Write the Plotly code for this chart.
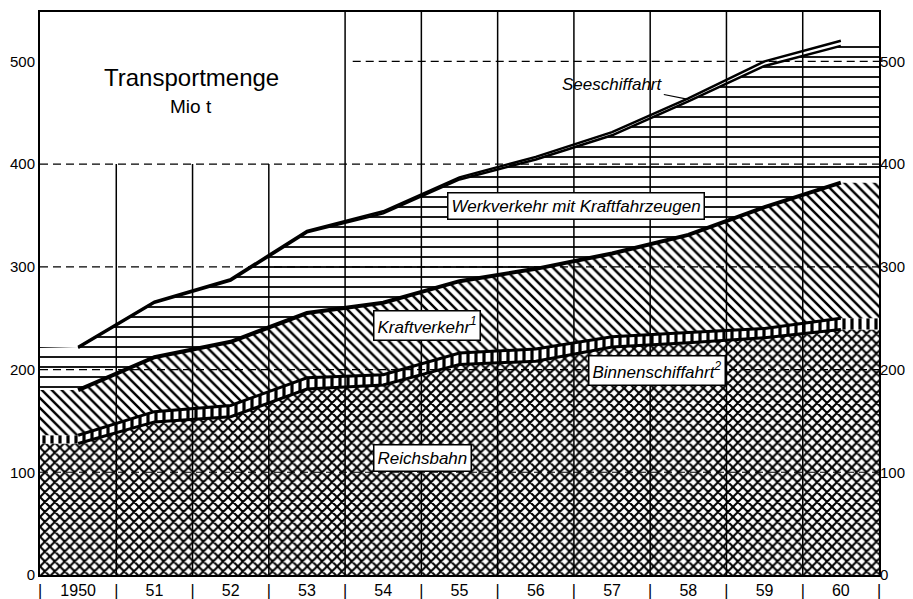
import plotly.graph_objects as go

# ---------------- data (Mio t) ----------------
years = [1950, 1951, 1952, 1953, 1954, 1955, 1956, 1957, 1958, 1959, 1960]
year_labels = ["1950", "51", "52", "53", "54", "55", "56", "57", "58", "59", "60"]
reichsbahn = [128, 149, 154, 181, 185, 205, 208, 222, 226, 231, 239]
binnenschiffahrt = [8, 10, 11, 11, 10, 11, 12, 10, 10, 9, 11]
kraftverkehr = [44, 53, 62, 63, 70, 70, 78, 81, 95, 118, 132]
werkverkehr = [41, 53, 59.5, 78.5, 87, 99, 106.5, 115, 130, 137.5, 133]
seeschiffahrt = [1, 1, 1.5, 1.5, 2, 2, 2.5, 3, 3, 4.5, 5]
y_ticks = [0, 100, 200, 300, 400, 500]

# ---------------- cumulative levels ----------------
def cum(*series):
    return [sum(v) for v in zip(*series)]

c1 = reichsbahn
c2 = cum(reichsbahn, binnenschiffahrt)
c3 = cum(reichsbahn, binnenschiffahrt, kraftverkehr)
c4 = cum(reichsbahn, binnenschiffahrt, kraftverkehr, werkverkehr)
c5 = cum(reichsbahn, binnenschiffahrt, kraftverkehr, werkverkehr, seeschiffahrt)

x_ext = [years[0] - 0.5] + years + [years[-1] + 0.5]
def ext(a, first=None, last=None):
    return [a[0] if first is None else first] + list(a) + [a[-1] if last is None else last]

Y_MAX = 548
FONT = "Liberation Sans, Arial, sans-serif"

fig = go.Figure()

def fill_trace(y, fill, shape, size, solidity):
    return go.Scatter(
        x=x_ext, y=y, mode="lines", line=dict(width=0, color="black"),
        fill=fill, fillcolor="white",
        fillpattern=dict(shape=shape, fgcolor="black", bgcolor="white",
                         fgopacity=1, size=size, solidity=solidity),
        hoverinfo="skip", showlegend=False)

fig.add_trace(fill_trace(ext(c1), "tozeroy", "x", 7, 0.5))
fig.add_trace(fill_trace(ext(c2), "tonexty", "|", 8, 0.4))
fig.add_trace(fill_trace(ext(c3), "tonexty", "\\", 7, 0.35))
fig.add_trace(fill_trace(ext(c4, first=c5[0], last=c5[-1]), "tonexty", "-", 10, 0.18))

# Seeschiffahrt band (white)
fig.add_trace(go.Scatter(x=years, y=c4, mode="lines", line=dict(width=0),
                         hoverinfo="skip", showlegend=False))
fig.add_trace(go.Scatter(x=years, y=c5, mode="lines", line=dict(width=0),
                         fill="tonexty", fillcolor="white",
                         hoverinfo="skip", showlegend=False))

# heavy boundary lines
for lv, w in [(c1, 3), (c2, 3), (c3, 4), (c4, 2.5), (c5, 2.5)]:
    fig.add_trace(go.Scatter(x=years, y=lv, mode="lines",
                             line=dict(color="black", width=w),
                             hoverinfo="skip", showlegend=False))

# dummy trace for right axis
fig.add_trace(go.Scatter(x=[years[0]], y=[0], yaxis="y2", mode="markers",
                         marker=dict(opacity=0), hoverinfo="skip", showlegend=False))

# ---------------- grid (above fills) ----------------
shapes = []
seps = [y + 0.5 for y in years[:-1]]
for s in seps:
    top = 400 if s < 1953 else Y_MAX
    shapes.append(dict(type="line", xref="x", yref="y", x0=s, x1=s, y0=0, y1=top,
                       line=dict(color="black", width=1.5), layer="above"))
for t in y_ticks[1:]:
    x0 = 1953.6 if t == 500 else years[0] - 0.5
    shapes.append(dict(type="line", xref="x", yref="y", x0=x0, x1=years[-1] + 0.5,
                       y0=t, y1=t, line=dict(color="black", width=1.2, dash="8px,5px"),
                       layer="above"))

# ---------------- x tick labels with separators ----------------
tickvals, ticktext = [], []
for i, y in enumerate(years):
    tickvals += [y - 0.5, y]
    ticktext += ["|", year_labels[i]]
tickvals.append(years[-1] + 0.5)
ticktext.append("|")

# ---------------- annotations ----------------
box = dict(bgcolor="white", bordercolor="black", borderwidth=1.5, borderpad=3,
           showarrow=False, font=dict(family=FONT, size=17, color="black"))
annotations = [
    dict(x=1951.49, y=484, text="Transportmenge", showarrow=False,
         font=dict(family=FONT, size=24, color="black")),
    dict(x=1951.48, y=456, text="Mio t", showarrow=False,
         font=dict(family=FONT, size=19, color="black")),
    dict(x=1956.53, y=359, text="<i>Werkverkehr mit Kraftfahrzeugen</i>", **box),
    dict(x=1954.57, y=243, text="<i>Kraftverkehr<sup>1</sup></i>", **box),
    dict(x=1957.59, y=199, text="<i>Binnenschiffahrt<sup>2</sup></i>", **box),
    dict(x=1954.52, y=114, text="<i>Reichsbahn</i>", **box),
    dict(x=1958.0, y=463, text="<i>Seeschiffahrt</i>", showarrow=True,
         arrowhead=0, arrowwidth=1.2, arrowcolor="black", ax=-76, ay=-15,
         font=dict(family=FONT, size=17, color="black")),
]

# page body has an 8px margin: figure is 905x591 placed at (8, 8)
fig.update_layout(
    width=905, height=591,
    margin=dict(l=32, r=34, t=4, b=24, autoexpand=False),
    paper_bgcolor="white", plot_bgcolor="white",
    showlegend=False,
    shapes=shapes, annotations=annotations,
    xaxis=dict(range=[years[0] - 0.5, years[-1] + 0.5], tickvals=tickvals,
               ticktext=ticktext, ticks="", showgrid=False, zeroline=False,
               showline=True, linecolor="black", linewidth=2, mirror=True,
               automargin=False,
               tickfont=dict(family=FONT, size=16, color="black")),
    yaxis=dict(range=[0, Y_MAX], tickvals=y_ticks, ticks="", showgrid=False,
               zeroline=False, showline=True, linecolor="black", linewidth=2,
               mirror=True, automargin=False,
               tickfont=dict(family=FONT, size=15, color="black")),
    yaxis2=dict(range=[0, Y_MAX], tickvals=y_ticks, ticks="", showgrid=False,
                zeroline=False, overlaying="y", side="right", showline=False,
                automargin=False,
                tickfont=dict(family=FONT, size=15, color="black")),
)

fig.write_html("out.html")
